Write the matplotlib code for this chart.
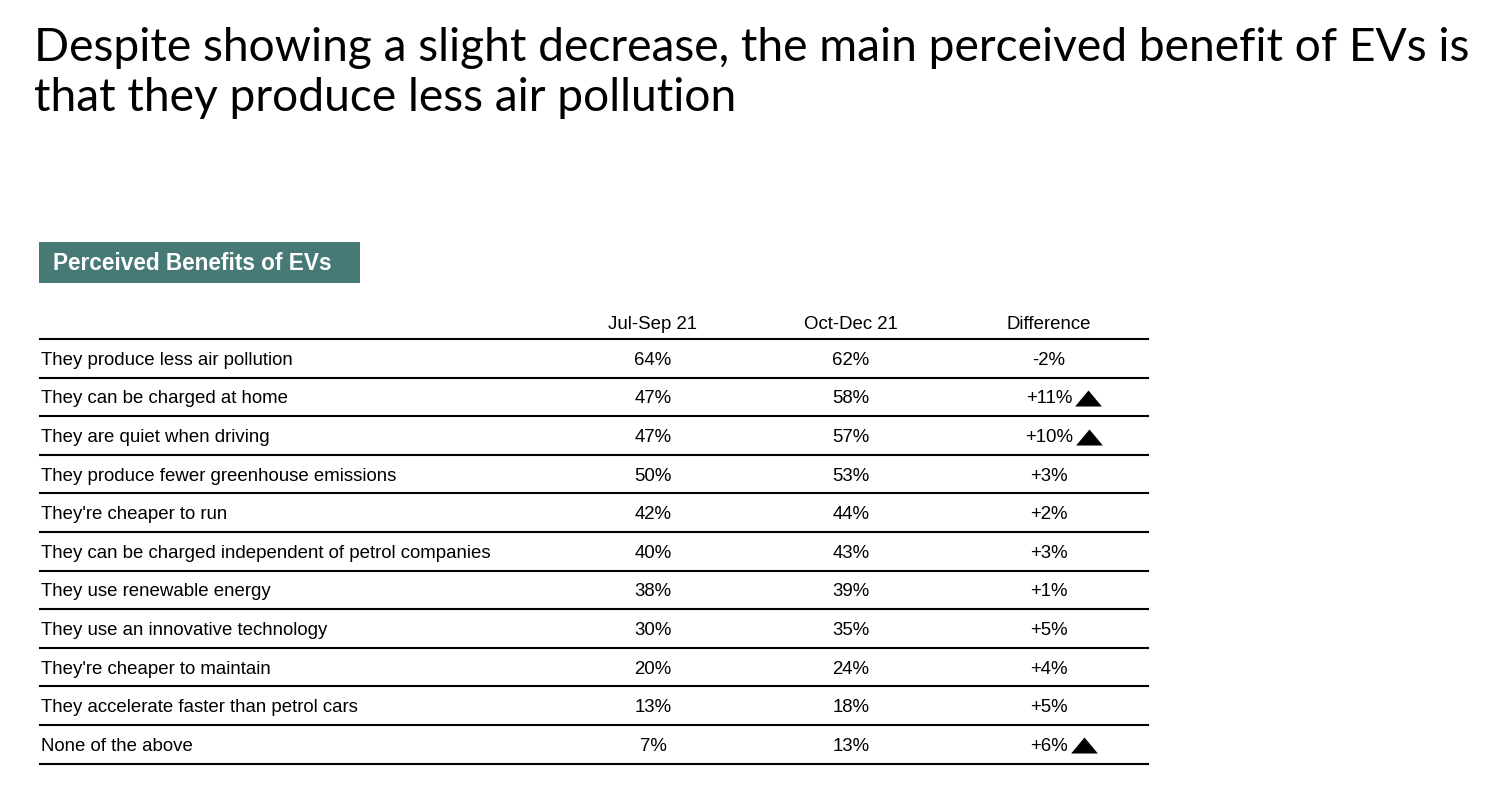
import matplotlib.pyplot as plt
from matplotlib.patches import Rectangle

# ---------------------------------------------------------------
# data
# ---------------------------------------------------------------
benefits = [
    "They produce less air pollution",
    "They can be charged at home",
    "They are quiet when driving",
    "They produce fewer greenhouse emissions",
    "They're cheaper to run",
    "They can be charged independent of petrol companies",
    "They use renewable energy",
    "They use an innovative technology",
    "They're cheaper to maintain",
    "They accelerate faster than petrol cars",
    "None of the above",
]
jul_sep = [64, 47, 47, 50, 42, 40, 38, 30, 20, 13, 7]
oct_dec = [62, 58, 57, 53, 44, 43, 39, 35, 24, 18, 13]
significant_up = [False, True, True, False, False, False, False, False, False, False, True]
col_headers = ["Jul-Sep 21", "Oct-Dec 21", "Difference"]

title_lines = ["Despite showing a slight decrease, the main perceived benefit of EVs is",
               "that they produce less air pollution"]
box_title = "Perceived Benefits of EVs"

# ---------------------------------------------------------------
# layout (pixel coordinates)
# ---------------------------------------------------------------
W, H = 1500, 786
fig = plt.figure(figsize=(15, 7.86), dpi=100)
ax = fig.add_axes([0, 0, 1, 1])
ax.set_xlim(0, W)
ax.set_ylim(H, 0)
ax.axis("off")

title_font = "Lato"
table_font = "Liberation Sans"
fs = 13.4

for k, line in enumerate(title_lines):
    ax.text(34, 61 + 50 * k, line, fontsize=33.2, family=title_font,
            va="baseline", ha="left", color="black")

# teal heading box
ax.add_patch(Rectangle((39, 242), 321, 41, color="#477a76", lw=0))
ax.text(53, 270, box_title, fontsize=16.3, family=table_font, weight="bold",
        color="white", va="baseline", ha="left")

x_left, x_right = 40, 1148
col_x = [653, 851, 1049]
header_baseline = 329
first_line = 339
row_h = 38.6

for cx, h in zip(col_x, col_headers):
    ax.text(cx, header_baseline, h, fontsize=fs, family=table_font, ha="center", va="baseline")
ax.plot([x_left, x_right], [first_line, first_line], color="black", lw=1.5)

fig.canvas.draw()
renderer = fig.canvas.get_renderer()
inv = ax.transData.inverted()

# flat triangle marker (wider than tall)
tri = [(-1, -0.6), (1, -0.6), (0, 0.6), (-1, -0.6)]

for i, label in enumerate(benefits):
    yc = first_line + row_h * (i + 0.5)
    yb = yc + 6.5
    ax.text(41, yb, label, fontsize=fs, family=table_font, ha="left", va="baseline")
    ax.text(col_x[0], yb, f"{jul_sep[i]}%", fontsize=fs, family=table_font,
            ha="center", va="baseline")
    ax.text(col_x[1], yb, f"{oct_dec[i]}%", fontsize=fs, family=table_font,
            ha="center", va="baseline")
    d = oct_dec[i] - jul_sep[i]
    t = ax.text(col_x[2], yb, f"{d:+d}%", fontsize=fs, family=table_font,
                ha="center", va="baseline")
    if significant_up[i]:
        bb = t.get_window_extent(renderer)
        x_end = inv.transform((bb.x1, bb.y0))[0]
        ax.scatter([x_end + 16], [yc + 1], marker=tri, s=370, color="black", lw=0)
    yl = first_line + row_h * (i + 1)
    ax.plot([x_left, x_right], [yl, yl], color="black", lw=1.5)

fig.savefig("out.png", dpi=100, facecolor="white")
